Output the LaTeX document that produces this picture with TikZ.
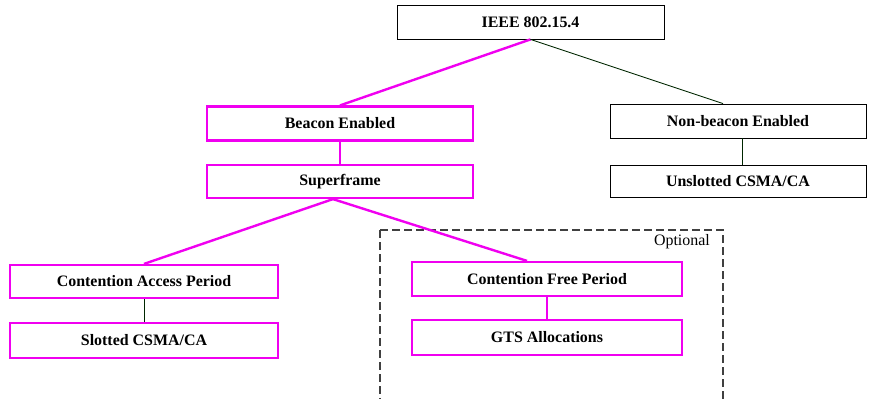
\documentclass[tikz,border=0pt]{standalone}
\usepackage{fontspec}
\setmainfont{Liberation Serif}
\definecolor{mag}{RGB}{240,0,240}
\definecolor{magshade}{RGB}{110,20,110}
\tikzset{
  box/.style={rectangle, draw=black, line width=0.8bp, fill=white, inner sep=0pt,
    font=\fontsize{16}{18}\selectfont\bfseries},
  magbox/.style={box, draw=mag, line width=2.2bp,
    preaction={draw=magshade, line width=1.2bp, transform canvas={shift={(0.8bp,-0.8bp)}}}},
  magline/.style={draw=mag, line width=2.4bp},
  blkline/.style={draw=black!85!green, line width=0.9bp},
}
\begin{document}
\begin{tikzpicture}[x=1bp,y=-1bp]
\useasboundingbox (0,0) rectangle (869,398);

% optional region
\draw[dash pattern=on 8bp off 4bp, line width=1.2bp, black!75]
  (380,230) -- (723,230) -- (723,410) (380,230) -- (380,410);
\node[anchor=base east, font=\fontsize{16}{18}\selectfont, inner sep=0pt] (opt) at (710,245) {Optional};

% boxes
\node[box, minimum width=267bp, minimum height=34bp] (ieee) at (530.5,22) {IEEE 802.15.4};
\node[magbox, minimum width=266bp, minimum height=34bp] (be) at (340,123.5) {Beacon Enabled};
\node[magbox, minimum width=266bp, minimum height=33bp] (sf) at (340,181.5) {Superframe};
\node[box, minimum width=256bp, minimum height=34bp] (nb) at (738,121) {Non-beacon Enabled};
\node[box, minimum width=256bp, minimum height=32bp] (us) at (738,181) {Unslotted CSMA/CA};
\node[magbox, minimum width=268bp, minimum height=33bp] (cap) at (144,281.5) {Contention Access Period};
\node[magbox, minimum width=268bp, minimum height=35bp] (sl) at (144,340.5) {Slotted CSMA/CA};
\node[magbox, minimum width=270bp, minimum height=34bp] (cfp) at (547,279) {Contention Free Period};
\node[magbox, minimum width=270bp, minimum height=35bp] (gts) at (547,337.5) {GTS Allocations};

% connectors
\draw[magline] (ieee.south) -- (be.north);
\draw[blkline] (ieee.south) -- ([xshift=-15bp]nb.north);
\draw[magline] (be.south) -- (sf.north);
\draw[blkline] ([xshift=4bp]nb.south) -- ([xshift=4bp]us.north);
\draw[magline] ([xshift=-7bp]sf.south) -- (cap.north);
\draw[magline] ([xshift=-7bp]sf.south) -- ([xshift=-20bp]cfp.north);
\draw[blkline] (cap.south) -- (sl.north);
\draw[magline] (cfp.south) -- (gts.north);
\end{tikzpicture}
\end{document}
